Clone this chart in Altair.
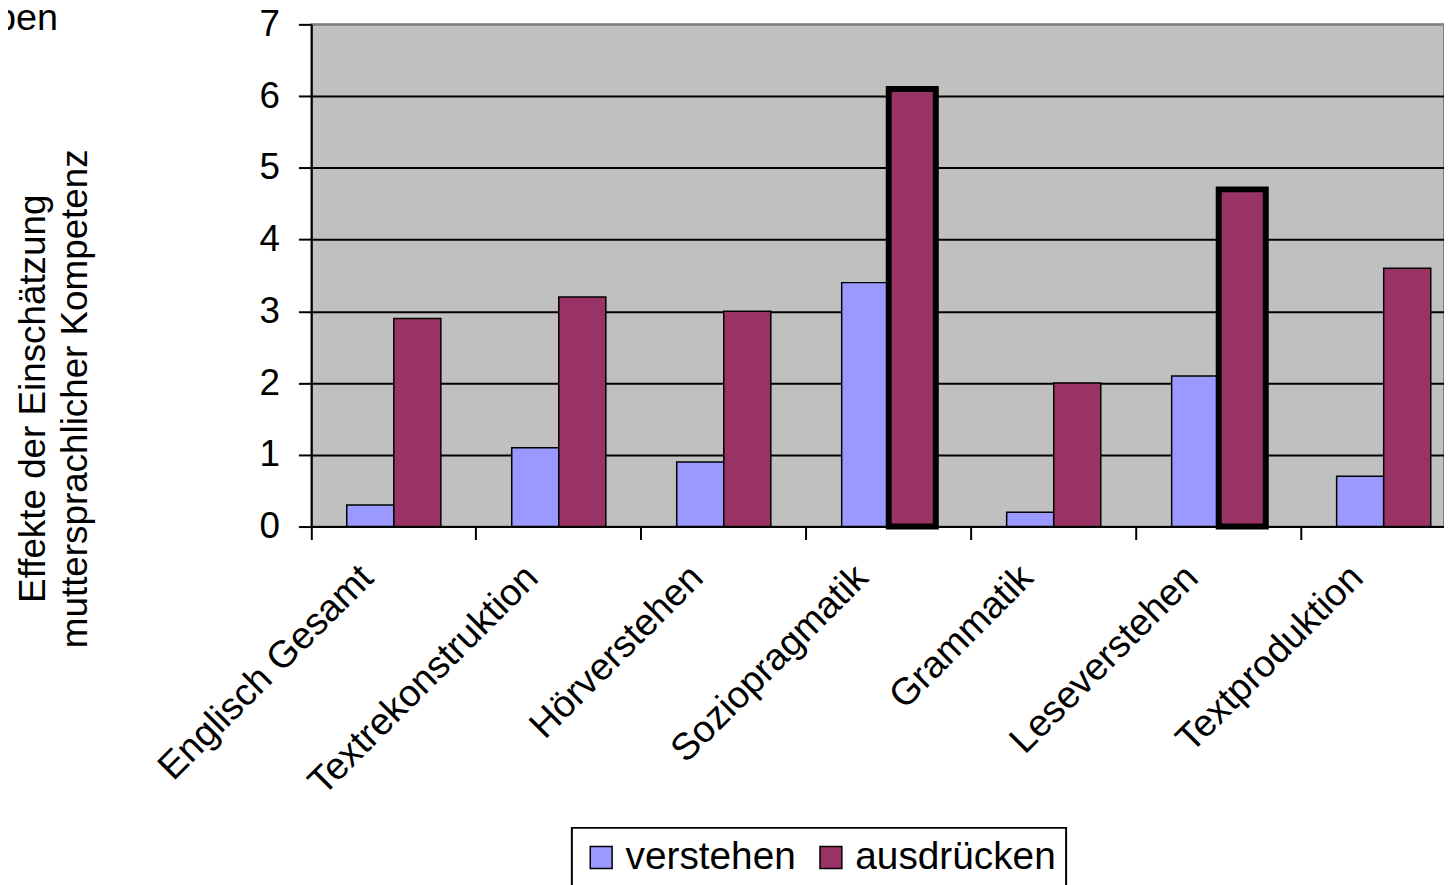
import altair as alt
import pandas as pd

kategorien = ["Englisch Gesamt", "Textrekonstruktion", "Hörverstehen", "Soziopragmatik",
              "Grammatik", "Leseverstehen", "Textproduktion"]
verstehen = [0.3, 1.1, 0.9, 3.4, 0.2, 2.1, 0.7]
ausdruecken = [2.9, 3.2, 3.0, 6.1, 2.0, 4.7, 3.6]
gruppen = ["verstehen", "ausdrücken"]
farben = ["#9999FF", "#993366"]
y_ticks = [0, 1, 2, 3, 4, 5, 6, 7]
y_titel = ["Effekte der Einschätzung", "muttersprachlicher Kompetenz"]
titel_fragment = "pen"

rows = []
for k, v, a in zip(kategorien, verstehen, ausdruecken):
    rows.append({"kategorie": k, "gruppe": gruppen[0], "wert": v})
    rows.append({"kategorie": k, "gruppe": gruppen[1], "wert": a})
df = pd.DataFrame(rows)

FONT = "Liberation Sans"
W = 1139
H = 505
STEP = 165.9

hervorgehoben = ("(datum.kategorie == 'Soziopragmatik' || datum.kategorie == 'Leseverstehen')"
                 " && datum.gruppe == 'ausdrücken'")

bars = alt.Chart(df).mark_bar(stroke="black").encode(
    x=alt.X(
        "kategorie:N", sort=kategorien,
        scale=alt.Scale(range=[0, STEP * len(kategorien)], paddingInner=0, paddingOuter=0),
        axis=alt.Axis(
            title=None, bandPosition=0, labelAngle=-45, labelAlign="right", labelBaseline="top",
            labelOffset=-40, labelPadding=19, labelFontSize=38, labelFont=FONT, labelColor="black",
            labelOverlap=False, labelLimit=1000,
            tickSize=13, tickColor="black", tickWidth=2,
            domainColor="black", domainWidth=2, grid=False,
        ),
    ),
    xOffset=alt.XOffset("gruppe:N", sort=gruppen,
                        scale=alt.Scale(domain=gruppen, paddingOuter=0.753, paddingInner=0)),
    y=alt.Y(
        "wert:Q",
        scale=alt.Scale(domain=[0, 7], nice=False),
        axis=alt.Axis(
            values=y_ticks, title=y_titel, titleFont=FONT, titleFontSize=37, titleFontWeight="normal",
            titleColor="black", titleAngle=270, titleX=-297, titleY=376, titleAlign="center",
            titleBaseline="top", titleLineHeight=42,
            labelFontSize=37, labelFont=FONT, labelColor="black", labelPadding=19,
            tickSize=13, tickColor="black", tickWidth=2,
            domainColor="black", domainWidth=2,
            grid=True, gridWidth=2,
            gridColor=alt.condition("datum.value == 7", alt.value("#808080"), alt.value("black")),
        ),
    ),
    color=alt.Color(
        "gruppe:N", sort=gruppen,
        scale=alt.Scale(domain=gruppen, range=farben),
        legend=alt.Legend(
            title=None, orient="none", legendX=262, legendY=808, direction="horizontal",
            strokeColor="black", fillColor="white", padding=10,
            labelFont=FONT, labelFontSize=39, labelColor="black", labelOffset=5, labelLimit=600,
            symbolType="square", symbolSize=484, symbolStrokeColor="black", symbolStrokeWidth=1.5,
            columnPadding=15,
        ),
    ),
    strokeWidth=alt.condition(hervorgehoben, alt.value(6), alt.value(1.5)),
)

fragment = alt.Chart(pd.DataFrame({"t": [titel_fragment]})).mark_text(
    align="left", baseline="alphabetic", font=FONT, fontSize=38, color="black",
).encode(
    text="t:N",
    x=alt.value(-318),
    y=alt.value(6),
)

chart = alt.layer(bars, fragment).properties(
    width=W, height=H,
    autosize=alt.AutoSizeParams(type="none"),
    padding={"left": 305, "top": 14, "right": 0, "bottom": 358},
).configure_view(
    fill="#C0C0C0", stroke="#808080", strokeWidth=2,
).configure_legend(
    strokeWidth=2,
)

chart.save("out.html", embed_options={"renderer": "svg", "actions": False})
